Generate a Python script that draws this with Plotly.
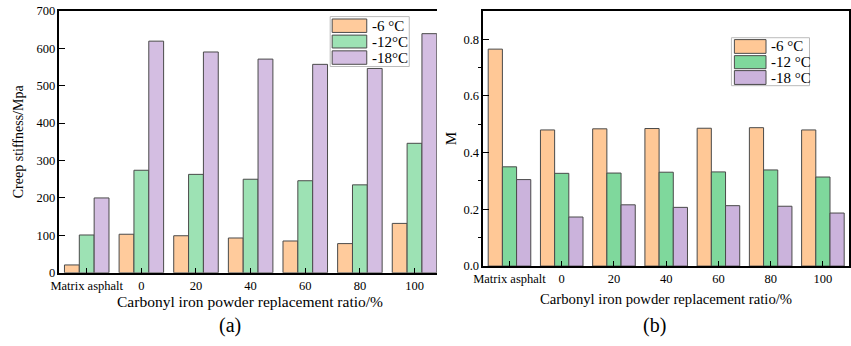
import plotly.graph_objects as go

categories = ["Matrix asphalt", "0", "20", "40", "60", "80", "100"]
series_names_a = ["-6 °C", "-12°C", "-18°C"]
series_names_b = ["-6 °C", "-12 °C", "-18 °C"]

stiff_m6 = [21, 103, 99, 93, 85, 78, 132]
stiff_m12 = [101, 274, 263, 250, 246, 235, 346]
stiff_m18 = [200, 619, 590, 571, 557, 546, 639]

m_m6 = [0.765, 0.480, 0.484, 0.485, 0.486, 0.488, 0.480]
m_m12 = [0.350, 0.327, 0.328, 0.331, 0.332, 0.339, 0.314]
m_m18 = [0.305, 0.173, 0.216, 0.207, 0.213, 0.211, 0.187]

colors_a = ["#FFCB9C", "#9DE2B4", "#D4BEE2"]
colors_b = ["#FFC896", "#7FD89C", "#CBB3DC"]
outline = "#4a4a4a"
FONT = "'Liberation Serif', 'Times New Roman', Times, 'DejaVu Serif', serif"

W, H = 851, 346
def px(x):
    return x / W
def py(y):
    return 1 - y / H

fig = go.Figure()
for vals, name, col in zip([stiff_m6, stiff_m12, stiff_m18], series_names_a, colors_a):
    fig.add_trace(go.Bar(x=categories, y=vals, name=name, marker=dict(color=col, line=dict(color=outline, width=1)),
                         xaxis="x", yaxis="y", showlegend=False))
for vals, name, col in zip([m_m6, m_m12, m_m18], series_names_b, colors_b):
    fig.add_trace(go.Bar(x=categories, y=vals, name=name, marker=dict(color=col, line=dict(color=outline, width=1)),
                         xaxis="x2", yaxis="y2", showlegend=False))

tickfont = dict(family=FONT, size=12.5, color="black")
common_x = dict(showline=True, linecolor="black", linewidth=1.5, ticks="inside", ticklen=5, tickcolor="black",
                tickfont=tickfont, showgrid=False, zeroline=False, type="category")
common_y = dict(showline=True, linecolor="black", linewidth=1.5, ticks="inside", ticklen=6, tickcolor="black",
                tickfont=tickfont, showgrid=False, zeroline=False, ticklabeloverflow="allow")

fig.update_layout(
    width=W, height=H, margin=dict(l=0, r=0, t=0, b=0),
    paper_bgcolor="white", plot_bgcolor="white",
    barmode="group", bargap=0.185, bargroupgap=0,
    xaxis=dict(domain=[px(50), px(432)], range=[-0.5, 6.41], mirror=True, anchor="y", **common_x),
    yaxis=dict(domain=[py(277), py(4)], range=[0, 700], dtick=100, anchor="x", **common_y),
    xaxis2=dict(domain=[px(479), px(849)], range=[-0.5, 6.5], mirror=True, anchor="y2", **common_x),
    yaxis2=dict(domain=[py(270), py(4)], range=[0, 0.9], tickvals=[0, 0.2, 0.4, 0.6, 0.8],
                ticktext=["0.0", "0.2", "0.4", "0.6", "0.8"], mirror=True, anchor="x2",
                minor=dict(tickvals=[0.1, 0.3, 0.5, 0.7], ticks="outside", ticklen=4, tickcolor="black"),
                **common_y),
    font=dict(family=FONT, color="black"),
)

annotations = [
    dict(text="Carbonyl iron powder replacement ratio/%", x=px(243), y=py(307), size=15.5),
    dict(text="Carbonyl iron powder replacement ratio/%", x=px(664), y=py(304), size=14.7),
    dict(text="(a)", x=px(223), y=py(332), size=20),
    dict(text="(b)", x=px(652), y=py(332), size=20),
]
anns = []
for a in annotations:
    anns.append(dict(text=a["text"], x=a["x"], y=a["y"], xref="paper", yref="paper", showarrow=False,
                     xanchor="center", yanchor="middle", font=dict(family=FONT, size=a["size"], color="black")))
anns.append(dict(text="Creep stiffness/Mpa", x=px(8), y=py(140), xref="paper", yref="paper", showarrow=False,
                 textangle=-90, xanchor="center", yanchor="middle", font=dict(family=FONT, size=14, color="black")))
anns.append(dict(text="M", x=px(447), y=py(137), xref="paper", yref="paper", showarrow=False,
                 textangle=-90, xanchor="center", yanchor="middle", font=dict(family=FONT, size=15, color="black")))

shapes = []
# custom legends (paper coordinates)
def legend(box, sw_x, rows, text_x, names, cols):
    shapes.append(dict(type="rect", xref="paper", yref="paper", x0=px(box[0]), x1=px(box[1]), y0=py(box[3]), y1=py(box[2]),
                       line=dict(color="#bbbbbb", width=1), fillcolor="white", layer="above"))
    for (y0, y1), name, col in zip(rows, names, cols):
        shapes.append(dict(type="rect", xref="paper", yref="paper", x0=px(sw_x[0]), x1=px(sw_x[1]), y0=py(y1), y1=py(y0),
                           line=dict(color=outline, width=1), fillcolor=col, layer="above"))
        anns.append(dict(text=name, x=px(text_x), y=py((y0 + y1) / 2), xref="paper", yref="paper", showarrow=False,
                         xanchor="left", yanchor="middle", font=dict(family=FONT, size=15, color="black")))

legend((324, 404, 10, 62), (326, 361), [(12.5, 26.5), (29.3, 42.7), (45.7, 59.7)], 364, series_names_a, colors_a)
legend((730, 809, 32, 82), (733, 765), [(34, 48.3), (50.7, 64.3), (66.3, 80.7)], 768, series_names_b, colors_b)

fig.update_layout(shapes=shapes, annotations=anns)
fig.write_html("out.html", config={"displayModeBar": False},
               post_script="document.body.style.margin='0';document.body.style.padding='0';")
